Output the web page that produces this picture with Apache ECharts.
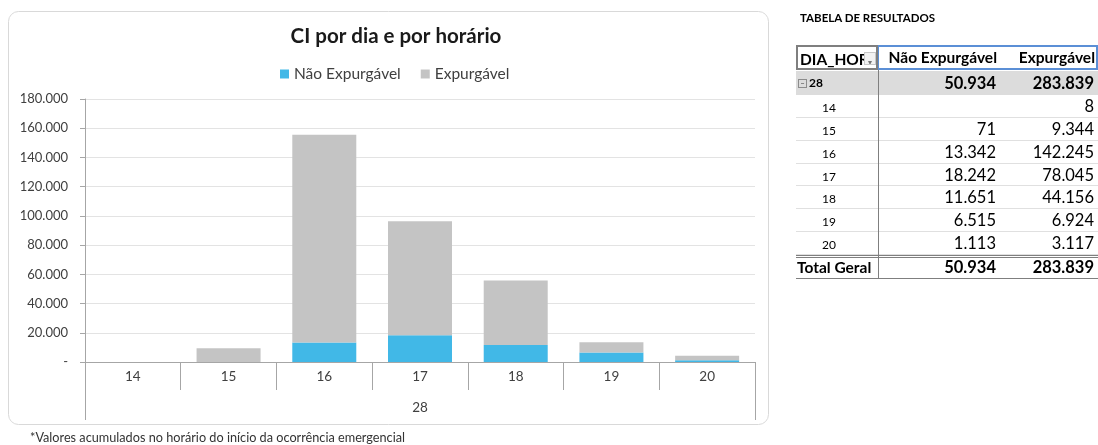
<!DOCTYPE html>
<html>
<head>
<meta charset="utf-8">
<script src="https://cdn.jsdelivr.net/npm/echarts@6/dist/echarts.min.js"></script>
<style>
  html, body { margin: 0; padding: 0; background: #fff; }
  body { width: 1098px; height: 445px; position: relative; overflow: hidden; font-family: Lato, "Open Sans", sans-serif; }
  #chart { position: absolute; left: 0; top: 0; width: 1098px; height: 445px; }
  #tabela { position: absolute; left: 0; top: 0; width: 1098px; height: 445px; pointer-events: none; }
  .cel { position: absolute; box-sizing: border-box; white-space: nowrap; overflow: hidden; color: #000; }
</style>
</head>
<body>
<div id="chart"></div>
<div id="tabela"></div>
<script>
// dados do grafico
var horas = ['14', '15', '16', '17', '18', '19', '20'];
var dia = ['28'];
var naoExpurgavel = [null, 71, 13342, 18242, 11651, 6515, 1113];
var expurgavel = [8, 9344, 142245, 78045, 44156, 6924, 3117];
var totalNao = 50934;
var totalExp = 283839;

var fmt = function (v) {
    if (v === null || v === undefined) return '';
    if (v === 0) return '-';
    return String(v).replace(/\B(?=(\d{3})+(?!\d))/g, '.');
};

var myChart = echarts.init(document.getElementById('chart'), null, {renderer: 'canvas'});

var option = {
    animation: false,
    textStyle: {fontFamily: 'Lato'},
    title: {
        text: 'CI por dia e por horário',
        left: 391,
        top: 21,
        textAlign: 'center',
        textStyle: {fontSize: 20.5, fontWeight: 'bold', color: '#1a1a1a', fontFamily: 'Lato'}
    },
    legend: {
        top: 61,
        left: 275,
        itemWidth: 9,
        itemHeight: 9,
        itemGap: 20,
        icon: 'rect',
        textStyle: {fontSize: 15.5, color: '#404040', fontFamily: 'Lato'},
        data: ['Não Expurgável', 'Expurgável']
    },
    graphic: [
        {
            type: 'rect',
            z: -10,
            shape: {x: 8.5, y: 11.5, width: 760, height: 413, r: 10},
            style: {fill: '#fff', stroke: '#d9d9d9', lineWidth: 1}
        },
        {
            type: 'text',
            left: 30,
            top: 431,
            style: {text: '*Valores acumulados no horário do início da ocorrência emergencial', fontSize: 12.7, fill: '#333', fontFamily: 'Lato'}
        }
    ],
    grid: {left: 85, right: 343, top: 99, bottom: 83, containLabel: false},
    xAxis: [
        {
            type: 'category',
            data: horas,
            axisLine: {lineStyle: {color: '#a6a6a6'}},
            axisTick: {show: true, interval: 0, length: 28, lineStyle: {color: '#a6a6a6'}},
            axisLabel: {fontSize: 13.5, color: '#404040', margin: 8},
            splitLine: {show: false}
        },
        {
            type: 'category',
            data: dia,
            position: 'bottom',
            axisLine: {show: false},
            axisTick: {show: true, length: 58, lineStyle: {color: '#a6a6a6'}},
            axisLabel: {fontSize: 13.5, color: '#404040', margin: 39}
        }
    ],
    yAxis: {
        type: 'value',
        min: 0,
        max: 180000,
        interval: 20000,
        axisLine: {show: true, lineStyle: {color: '#a6a6a6'}},
        axisTick: {show: true, length: 5, lineStyle: {color: '#a6a6a6'}},
        axisLabel: {fontSize: 13, color: '#404040', margin: 17, formatter: fmt},
        splitLine: {lineStyle: {color: '#e3e3e3'}}
    },
    series: [
        {
            name: 'Não Expurgável',
            type: 'bar',
            stack: 'ci',
            xAxisIndex: 0,
            barWidth: 64,
            itemStyle: {color: '#41b8e7'},
            data: naoExpurgavel
        },
        {
            name: 'Expurgável',
            type: 'bar',
            stack: 'ci',
            xAxisIndex: 0,
            barWidth: 64,
            itemStyle: {color: '#c4c4c4'},
            data: expurgavel
        }
    ]
};
myChart.setOption(option);

// tabela de resultados (html)
var tab = document.getElementById('tabela');
var cel = function (x, y, w, h, txt, css) {
    var d = document.createElement('div');
    d.className = 'cel';
    d.style.left = x + 'px';
    d.style.top = y + 'px';
    d.style.width = w + 'px';
    d.style.height = h + 'px';
    d.style.lineHeight = h + 'px';
    d.innerHTML = txt;
    if (css) d.style.cssText += css;
    tab.appendChild(d);
    return d;
};
var c0 = 796, c1 = 878, c2 = 1000, c3 = 1098;

cel(800, 10, 220, 16, 'TABELA DE RESULTADOS', 'font-size:11.5px;font-weight:bold;');

// cabecalho
cel(c0, 45, c1 - c0, 25, 'DIA_HOR', 'font-size:15.5px;font-weight:bold;border:2px solid #7f7f7f;padding-left:2px;');
cel(c1 - 14, 52, 12, 13, '<span style="font-size:8px;color:#777">&#9662;</span>', 'border:1px solid #c8c8c8;background:#f2f2f2;text-align:center;line-height:12px;');
cel(c1, 45, c3 - c1, 25, '', 'border:2px solid #5b8fd6;border-left-width:1px;');
cel(c1, 45, c2 - c1 - 3, 25, 'Não Expurgável', 'font-size:15.5px;font-weight:bold;text-align:right;');
cel(c2, 45, c3 - c2 - 3, 25, 'Expurgável', 'font-size:15.5px;font-weight:bold;text-align:right;');

// linha do dia
cel(c0, 71, c3 - c0, 24, '', 'background:#dcdcdc;');
cel(c0 + 2, 71, 70, 24, '<span style="display:inline-block;width:7px;height:7px;border:1px solid #8c8c8c;font-size:7px;line-height:7px;text-align:center;color:#666;vertical-align:middle;margin-right:2px">&minus;</span>' + dia[0], 'font-size:12px;font-weight:bold;');
cel(c1, 71, c2 - c1 - 4, 24, fmt(totalNao), 'font-size:16.5px;font-weight:bold;text-align:right;');
cel(c2, 71, c3 - c2 - 4, 24, fmt(totalExp), 'font-size:16.5px;font-weight:bold;text-align:right;');

// linhas das horas
var rh = 22.85;
for (var i = 0; i < horas.length; i++) {
    var y = 95 + i * rh;
    cel(c0, y, c3 - c0, rh, '', 'border-bottom:1px solid #e0e0e0;');
    cel(c0 + 26, y + 2, 40, rh, horas[i], 'font-size:12px;');
    cel(c1, y, c2 - c1 - 4, rh, fmt(naoExpurgavel[i]), 'font-size:16.5px;text-align:right;');
    cel(c2, y, c3 - c2 - 4, rh, fmt(expurgavel[i]), 'font-size:16.5px;text-align:right;');
}

// total geral
var yt = 95 + horas.length * rh;
cel(c0, yt, c3 - c0, 24, '', 'border-top:3px double #7f7f7f;border-bottom:1px solid #7f7f7f;');
cel(c0 + 1, yt + 1, c1 - c0, 23, 'Total Geral', 'font-size:15.5px;font-weight:bold;');
cel(c1, yt + 1, c2 - c1 - 4, 23, fmt(totalNao), 'font-size:16.5px;font-weight:bold;text-align:right;');
cel(c2, yt + 1, c3 - c2 - 4, 23, fmt(totalExp), 'font-size:16.5px;font-weight:bold;text-align:right;');

// linha vertical entre colunas
cel(c1, 70, 1, yt + 24 - 70, '', 'background:#7f7f7f;');
</script>
</body>
</html>
